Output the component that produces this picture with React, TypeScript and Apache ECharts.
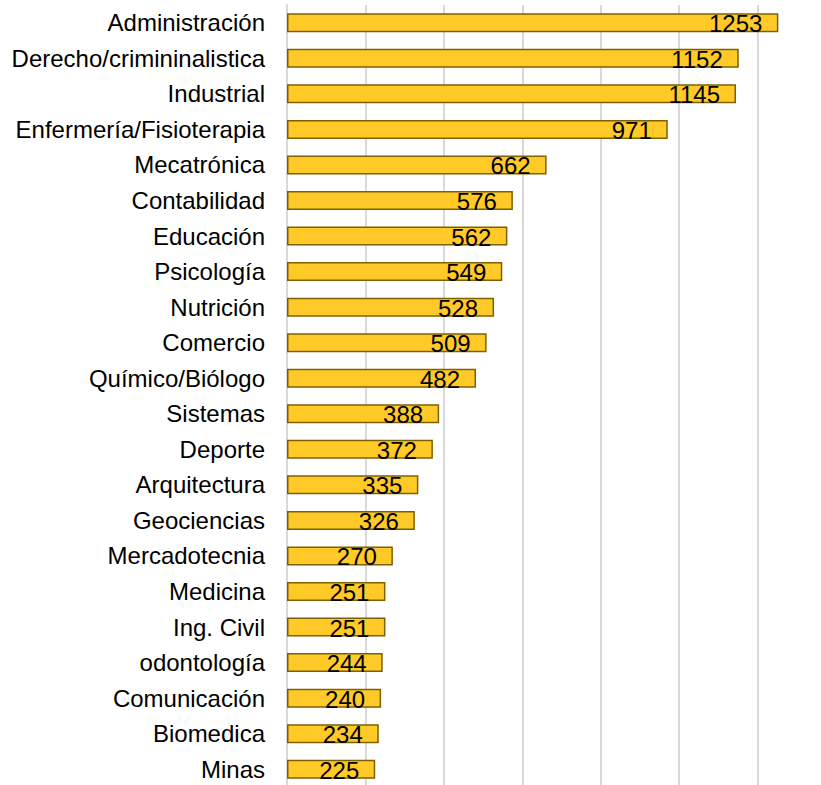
import React, { useEffect, useRef } from "react";
import * as echarts from "echarts";

const categories = [
  "Administración",
  "Derecho/crimininalistica",
  "Industrial",
  "Enfermería/Fisioterapia",
  "Mecatrónica",
  "Contabilidad",
  "Educación",
  "Psicología",
  "Nutrición",
  "Comercio",
  "Químico/Biólogo",
  "Sistemas",
  "Deporte",
  "Arquitectura",
  "Geociencias",
  "Mercadotecnia",
  "Medicina",
  "Ing. Civil",
  "odontología",
  "Comunicación",
  "Biomedica",
  "Minas",
];

const values = [1253, 1152, 1145, 971, 662, 576, 562, 549, 528, 509, 482, 388, 372, 335, 326, 270, 251, 251, 244, 240, 234, 225];

const FONT = "'Liberation Sans', Arial, sans-serif";

export default function App() {
  const ref = useRef<HTMLDivElement>(null);
  useEffect(() => {
    if (!ref.current) return;
    const chart = echarts.init(ref.current, null, { renderer: "svg" });
    chart.setOption({
      animation: false,
      backgroundColor: "#ffffff",
      grid: {
        left: 287,
        right: -15,
        top: 5,
        bottom: -2,
        containLabel: false,
        outerBoundsMode: "none",
      },
      xAxis: {
        type: "value",
        min: 0,
        max: 1400,
        interval: 200,
        axisLabel: { show: false },
        axisLine: { show: false },
        axisTick: { show: false },
        splitLine: { show: true, lineStyle: { color: "#d9d9d9", width: 2 } },
      },
      yAxis: {
        type: "category",
        data: categories,
        inverse: true,
        axisLine: { show: true, lineStyle: { color: "#d9d9d9", width: 2 } },
        axisTick: { show: false },
        axisLabel: {
          fontFamily: FONT,
          fontSize: 24,
          color: "#000000",
          margin: 22,
        },
      },
      series: [
        {
          type: "bar",
          data: values,
          barCategoryGap: "46.5%",
          itemStyle: { color: "#FFCA28", borderColor: "#7F6000", borderWidth: 1.5 },
          label: {
            show: true,
            position: "insideRight",
            distance: 16,
            fontFamily: FONT,
            fontSize: 24,
            color: "#000000",
            offset: [0, 1],
          },
        },
      ],
    });
    return () => chart.dispose();
  }, []);
  return (
    <div
      ref={ref}
      style={{ position: "fixed", left: 0, top: 0, width: 821, height: 785 }}
    />
  );
}
